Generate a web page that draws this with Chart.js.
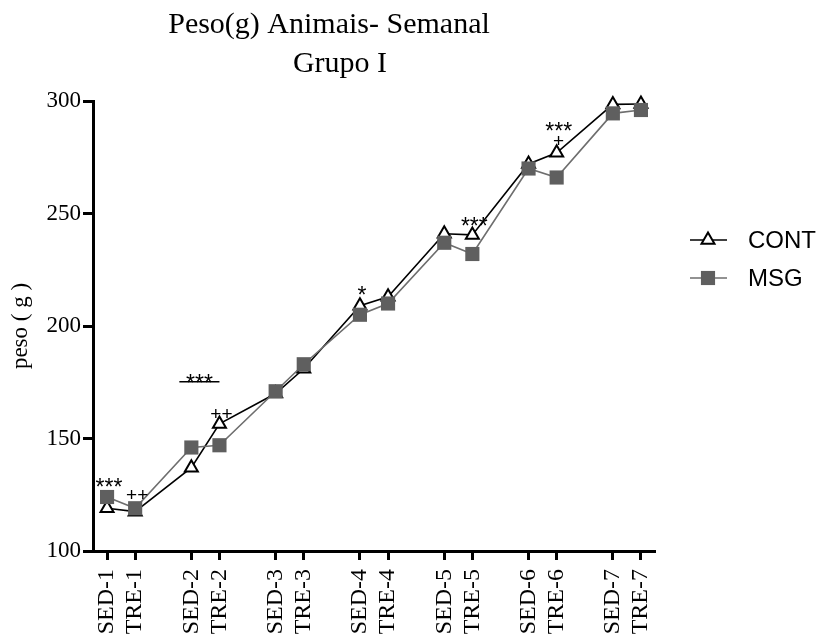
<!DOCTYPE html>
<html>
<head>
<meta charset="utf-8">
<script src="https://cdn.jsdelivr.net/npm/chart.js@4/dist/chart.umd.min.js"></script>
<style>
  html, body { margin: 0; padding: 0; background: #fff; }
  canvas { display: block; }
</style>
</head>
<body>
<canvas id="peso-chart" width="824" height="636"></canvas>
<script>
const weeks = ["SED-1", "TRE-1", "SED-2", "TRE-2", "SED-3", "TRE-3", "SED-4", "TRE-4",
               "SED-5", "TRE-5", "SED-6", "TRE-6", "SED-7", "TRE-7"];
const contValues = [119, 117.5, 137, 156.5, 170, 181, 209, 213, 241, 240.5, 272, 277, 298.5, 298.7];
const msgValues = [124, 119, 146, 147, 171, 183, 205, 210, 237, 232, 270, 266, 294.5, 296];

// significance marks
const markWeeks = ["SED-1", "TRE-1", "SED-2", "TRE-2", "SED-4", "TRE-5", "TRE-6", "TRE-6"];
const markText = ["***", "++", "***", "++", "*", "***", "***", "+"];
const markValues = [131, 125, 177, 161, 216, 247, 289, 282.5];

const serif = '"Liberation Serif", "Times New Roman", serif';
const sans = '"Liberation Sans", Arial, sans-serif';

// blank category between each SED/TRE pair
const withGaps = arr => arr.flatMap((v, i) => (i % 2 === 1 && i < arr.length - 1) ? [v, null] : [v]);
const labels = withGaps(weeks).map(l => l === null ? "" : l);

const titlePlugin = {
    id: "titleText",
    afterDraw(chart) {
        const ctx = chart.ctx;
        ctx.save();
        ctx.fillStyle = "#000";
        ctx.font = "30px " + serif;
        ctx.textAlign = "center";
        ctx.textBaseline = "alphabetic";
        ctx.fillText("Peso(g) Animais- Semanal", 329, 33);
        ctx.fillText("Grupo I", 340, 72);
        ctx.restore();
    }
};

const marksPlugin = {
    id: "marks",
    afterDatasetsDraw(chart) {
        const ctx = chart.ctx;
        const x = chart.scales.x, y = chart.scales.y;
        ctx.save();
        ctx.fillStyle = "#000";
        ctx.strokeStyle = "#000";
        ctx.textAlign = "center";
        ctx.textBaseline = "alphabetic";
        markWeeks.forEach((w, i) => {
            const text = markText[i];
            const size = text[0] === "*" ? 23 : 19;
            let px = x.getPixelForValue(labels.indexOf(w)) + 2;
            const py = y.getPixelForValue(markValues[i]);
            if (w === "SED-2") {
                // bar across SED-2 / TRE-2
                const x0 = px - 14, x1 = x.getPixelForValue(labels.indexOf("TRE-2"));
                ctx.lineWidth = 1.5;
                ctx.beginPath();
                ctx.moveTo(x0, py + 4);
                ctx.lineTo(x1, py + 4);
                ctx.stroke();
                px = (x0 + x1) / 2;
            }
            ctx.font = size + "px " + sans;
            const shift = text[0] === "*" ? 0.58 : 0.34;
            ctx.fillText(text, px, py + shift * size);
        });
        ctx.restore();
    }
};

const legendPlugin = {
    id: "sideLegend",
    afterDraw(chart) {
        const ctx = chart.ctx;
        const left = chart.chartArea.right + 35;
        const rows = [240, 278];
        ctx.save();
        chart.data.datasets.forEach((ds, i) => {
            const yy = rows[i];
            ctx.strokeStyle = ds.borderColor;
            ctx.lineWidth = ds.borderWidth;
            ctx.beginPath();
            ctx.moveTo(left, yy);
            ctx.lineTo(left + 37, yy);
            ctx.stroke();
            ctx.fillStyle = ds.pointBackgroundColor;
            ctx.strokeStyle = ds.pointBorderColor;
            ctx.lineWidth = ds.pointBorderWidth;
            Chart.helpers.drawPoint(ctx, {
                pointStyle: ds.pointStyle,
                radius: ds.pointRadius,
                borderWidth: ds.pointBorderWidth,
                rotation: 0
            }, left + 18, yy);
            ctx.fillStyle = "#000";
            ctx.font = "24px " + sans;
            ctx.textAlign = "left";
            ctx.textBaseline = "middle";
            ctx.fillText(ds.label, left + 58, yy + 1);
        });
        ctx.restore();
    }
};

const tickColor = ctx => (ctx.tick && ctx.tick.label !== "") ? "#000" : "rgba(0,0,0,0)";

const ctx = document.getElementById("peso-chart").getContext("2d");
const chart = new Chart(ctx, {
    type: "line",
    data: {
        labels,
        datasets: [
            {
                label: "CONT",
                data: withGaps(contValues),
                borderColor: "#000",
                borderWidth: 1.6,
                pointStyle: "triangle",
                pointRadius: 7.5,
                pointBorderWidth: 2,
                pointBackgroundColor: "#fff",
                pointBorderColor: "#000",
                spanGaps: true,
                clip: false,
                order: 2
            },
            {
                label: "MSG",
                data: withGaps(msgValues),
                borderColor: "#6e6e6e",
                borderWidth: 1.6,
                pointStyle: "rect",
                pointRadius: 10,
                pointBorderWidth: 0,
                pointBackgroundColor: "#5f5f5f",
                pointBorderColor: "#5f5f5f",
                spanGaps: true,
                clip: false,
                order: 1
            }
        ]
    },
    options: {
        responsive: false,
        animation: false,
        layout: {
            padding: { top: 101, right: 169, left: 0, bottom: 0 }
        },
        plugins: {
            legend: { display: false },
            title: { display: false },
            tooltip: { enabled: false }
        },
        scales: {
            x: {
                offset: true,
                afterFit: scale => { scale.height = 85; },
                border: { display: true, color: "#000", width: 3 },
                grid: {
                    drawOnChartArea: false,
                    offset: false,
                    tickLength: 9,
                    tickWidth: 3,
                    tickColor
                },
                ticks: {
                    autoSkip: false,
                    maxRotation: 90,
                    minRotation: 90,
                    padding: 9,
                    color: "#000",
                    font: { family: serif, size: 24 }
                }
            },
            y: {
                min: 100,
                max: 300,
                afterFit: scale => { scale.width = 93; },
                border: { display: true, color: "#000", width: 3 },
                grid: {
                    drawOnChartArea: false,
                    tickLength: 10,
                    tickWidth: 3,
                    tickColor: "#000"
                },
                ticks: {
                    stepSize: 50,
                    padding: 2,
                    color: "#000",
                    font: { family: serif, size: 23 }
                },
                title: {
                    display: true,
                    text: "peso ( g )",
                    color: "#000",
                    padding: { top: 7, bottom: 0 },
                    font: { family: serif, size: 23 }
                }
            }
        }
    },
    plugins: [titlePlugin, marksPlugin, legendPlugin]
});
</script>
</body>
</html>
